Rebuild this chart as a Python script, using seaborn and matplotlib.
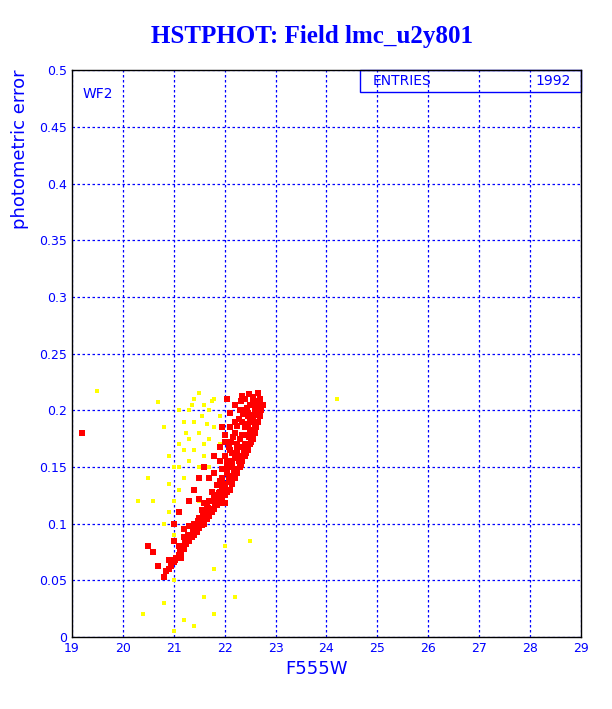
import matplotlib
matplotlib.use("Agg")
import matplotlib.pyplot as plt
import seaborn as sns
import pandas as pd
from matplotlib.ticker import MultipleLocator

red_x = [20.8,20.85,20.9,20.95,21.0,21.05,20.7,20.9,
 21.1,21.15,21.2,21.25,21.3,21.1,21.2,21.0,21.35,
 21.4,21.45,21.5,21.55,21.6,21.65,21.7,21.4,21.5,21.3,21.6,21.2,
 21.75,21.8,21.85,21.9,21.95,22.0,22.05,21.7,21.8,21.6,21.9,21.5,22.0,
 22.1,22.15,22.2,22.25,22.3,22.0,22.1,21.9,21.8,22.2,21.7,22.05,21.95,
 22.35,22.4,22.45,22.5,22.3,22.2,22.1,22.0,21.9,22.25,22.4,21.8,22.15,
 22.55,22.6,22.6,22.65,22.5,22.4,22.3,22.2,22.1,22.0,22.35,22.45,21.95,
 22.7,22.7,22.75,22.7,22.6,22.5,22.4,22.3,22.2,22.1,22.55,22.65,22.45,22.35,22.05,
 20.5,20.6,21.0,21.1,21.3,21.4,21.5,21.6,19.2,
 21.02,21.12,21.22,21.32,21.42,21.52,21.62,21.72,21.82,21.92,22.02,22.12,22.22,22.32,22.42,22.52,22.62,22.72,
 21.15,21.28,21.38,21.48,21.58,21.68,21.78,21.88,21.98,22.08,22.18,22.28,22.38,22.48,22.58,22.68,
 21.45,21.55,21.65,21.75,21.85,21.95,22.05,22.15,22.25,22.35,22.45,22.55,22.62,
 21.85,21.95,22.05,22.15,22.25,22.35,22.45,22.52,22.58,
 22.05,22.12,22.2,22.28,22.36,22.44,22.5,22.58,22.66,
 21.9,22.0,22.08,22.16,22.24,22.32,22.4,22.48,22.56,22.64]
red_y = [0.053,0.058,0.06,0.063,0.066,0.07,0.063,0.068,
 0.072,0.075,0.078,0.082,0.085,0.08,0.088,0.085,0.088,
 0.09,0.093,0.096,0.099,0.1,0.104,0.107,0.1,0.105,0.098,0.11,0.095,
 0.11,0.113,0.116,0.118,0.122,0.125,0.128,0.12,0.125,0.118,0.128,0.122,0.118,
 0.13,0.135,0.14,0.145,0.15,0.135,0.142,0.138,0.145,0.148,0.14,0.15,0.148,
 0.155,0.16,0.165,0.17,0.16,0.158,0.165,0.16,0.168,0.17,0.17,0.16,0.155,
 0.175,0.18,0.185,0.19,0.18,0.185,0.175,0.18,0.185,0.178,0.19,0.188,0.185,
 0.195,0.2,0.205,0.21,0.2,0.205,0.21,0.2,0.205,0.198,0.212,0.215,0.195,0.213,0.21,
 0.08,0.075,0.1,0.11,0.12,0.13,0.14,0.15,0.18,
 0.068,0.078,0.083,0.09,0.095,0.1,0.105,0.112,0.118,0.122,0.13,0.137,0.145,0.152,0.162,0.172,0.185,0.2,
 0.07,0.09,0.094,0.102,0.108,0.114,0.12,0.127,0.132,0.14,0.146,0.155,0.164,0.176,0.19,0.207,
 0.095,0.112,0.116,0.128,0.134,0.14,0.145,0.15,0.16,0.168,0.178,0.193,0.203,
 0.122,0.133,0.155,0.162,0.165,0.178,0.198,0.183,0.196,
 0.145,0.172,0.19,0.192,0.197,0.202,0.19,0.208,0.205,
 0.155,0.172,0.168,0.176,0.186,0.208,0.2,0.214,0.208,0.198]

yel_x = [19.5,20.7,20.8,20.9,21.0,21.1,21.2,21.3,21.4,21.5,21.6,21.7,21.8,21.9,
 21.5,21.6,21.4,21.3,21.2,21.1,21.0,20.9,21.5,21.6,21.7,21.8,21.4,21.7,21.3,21.1,
 20.9,20.8,20.6,20.3,20.5,21.0,21.1,21.9,21.2,21.5,21.0,21.8,21.6,20.4,21.2,21.0,
 20.8,22.5,22.0,24.2,21.8,22.2,21.4,21.55,21.65,21.35,21.25,21.75]
yel_y = [0.217,0.207,0.185,0.16,0.15,0.17,0.19,0.2,0.21,0.215,0.205,0.2,0.21,0.195,
 0.18,0.17,0.165,0.155,0.14,0.13,0.12,0.11,0.15,0.16,0.175,0.185,0.19,0.15,0.175,0.15,
 0.135,0.1,0.12,0.12,0.14,0.09,0.2,0.17,0.165,0.12,0.05,0.02,0.035,0.02,0.015,0.005,
 0.03,0.085,0.08,0.21,0.06,0.035,0.01,0.195,0.188,0.205,0.18,0.208]

entries = "1992"
blue = "#0000ff"

sns.set_style("white")
fig = plt.figure(figsize=(6.12, 7.09), dpi=100)
ax = fig.add_axes([0.1176, 0.1016, 0.8316, 0.7994])
ax.set_facecolor("white")
df_r = pd.DataFrame({"x": red_x, "y": red_y})
df_y = pd.DataFrame({"x": yel_x, "y": yel_y})
sns.scatterplot(data=df_y, x="x", y="y", ax=ax, color="yellow", marker="s", s=9, linewidth=0)
sns.scatterplot(data=df_r, x="x", y="y", ax=ax, color="red", marker="s", s=16, linewidth=0)
ax.set_xlim(19, 29); ax.set_ylim(0, 0.5)
ax.xaxis.set_major_locator(MultipleLocator(1))
ax.xaxis.set_minor_locator(MultipleLocator(0.2))
ax.yaxis.set_major_locator(MultipleLocator(0.05))
ax.yaxis.set_minor_locator(MultipleLocator(0.01))
ax.yaxis.set_major_formatter(matplotlib.ticker.FuncFormatter(lambda v, p: f"{v:g}"))
ax.grid(True, which="major", color=blue, linestyle=(0, (2, 2)), linewidth=0.9)
ax.set_axisbelow(True)
for s in ax.spines.values():
    s.set_color("black"); s.set_linewidth(1)
ax.tick_params(which="both", direction="in", colors=blue, labelcolor=blue, labelsize=9, top=False, right=False)
ax.tick_params(which="major", length=8)
ax.tick_params(which="minor", length=4)
ax.set_xlabel("F555W", color=blue, fontsize=13)
ax.set_ylabel("photometric error", color=blue, fontsize=13)
ax.yaxis.set_label_coords(-0.085, 0.86)
ax.xaxis.set_label_coords(0.48, -0.04)
ax.text(0.02, 0.97, "WF2", transform=ax.transAxes, color=blue, fontsize=10, va="top")
fig.text(0.51, 0.94, "HSTPHOT: Field lmc_u2y801", ha="center", color=blue,
         fontsize=18, fontweight="bold", family="Liberation Serif")
box = plt.Rectangle((24.65, 0.481), 4.35, 0.019, fill=False, edgecolor=blue, linewidth=1, clip_on=False)
ax.add_patch(box)
ax.text(24.9, 0.4905, "ENTRIES", color=blue, fontsize=10, va="center")
ax.text(28.8, 0.4905, entries, color=blue, fontsize=10, va="center", ha="right")
fig.savefig("out.png", dpi=100, facecolor="white")
